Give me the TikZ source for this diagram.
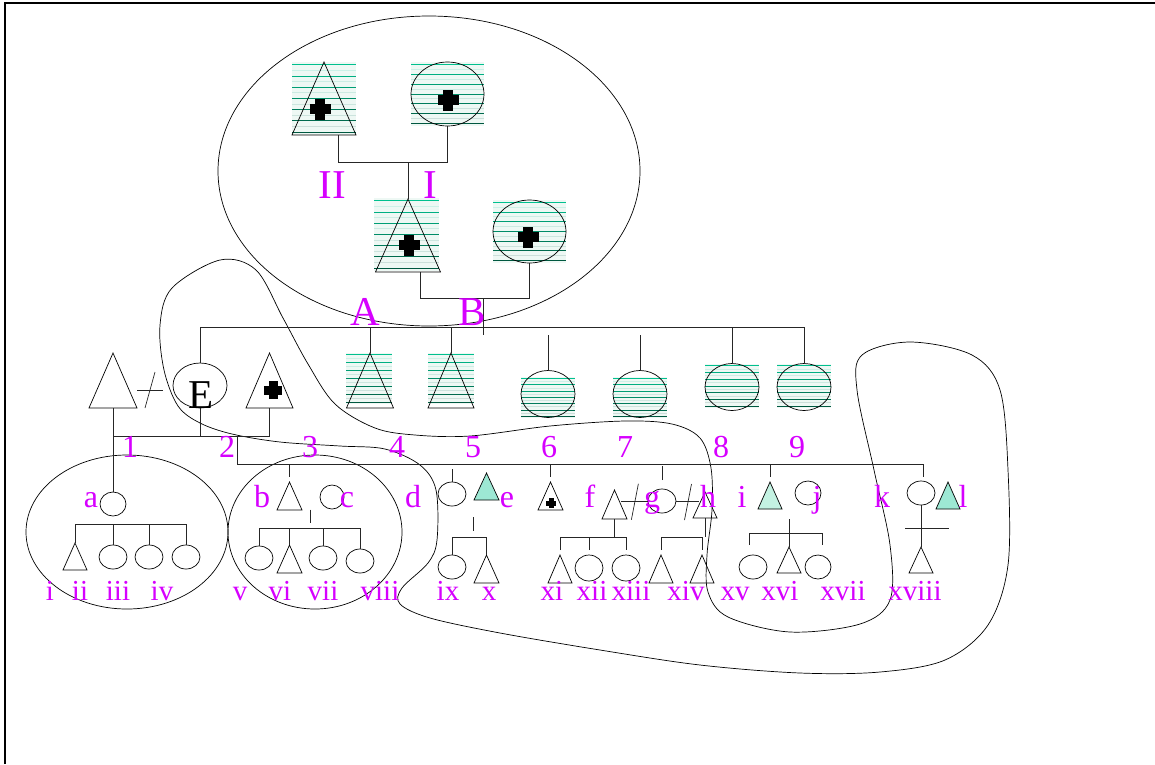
\documentclass[tikz,border=0pt]{standalone}
\usepackage{fontspec}
\setmainfont{Liberation Serif}
\usetikzlibrary{shapes.geometric,calc}

\definecolor{labcol}{RGB}{214,0,255}
\definecolor{mint}{RGB}{157,232,212}
\definecolor{palemint}{RGB}{196,242,226}
\definecolor{hatchbright}{RGB}{0,192,142}
\definecolor{hatchdark}{RGB}{0,88,64}
\definecolor{hatchbg}{RGB}{238,248,244}

\tikzset{
  pline/.style={draw=black!85, line width=0.7pt},
  tri/.style 2 args={draw, line width=0.7pt, isosceles triangle, shape border rotate=90,
    isosceles triangle stretches, inner sep=0pt, outer sep=0pt,
    minimum width=#1, minimum height=#2, anchor=apex},
  circ/.style 2 args={draw, line width=0.7pt, ellipse, inner sep=0pt, outer sep=0pt,
    minimum width=#1, minimum height=#2},
  lab/.style={text=labcol, anchor=base, inner sep=0pt, font=\fontsize{32}{36}\selectfont},
  romlab/.style={lab, font=\fontsize{29}{32}\selectfont},
  biglab/.style={lab, font=\fontsize{41}{44}\selectfont}
}

% striped shading behind affected people
\newcommand\hatchbox[4]{%
  \fill[hatchbg] (#1,#2) rectangle (#3,#4);
  \foreach \k in {0,...,12}{%
    \pgfmathsetmacro\hy{#2+(\k+0.5)*(#4-#2)/13}%
    \pgfmathtruncatemacro\hmix{100*\k/12}%
    \pgfmathtruncatemacro\hodd{mod(\k,2)}%
    \ifnum\hodd=0 \def\hcol{hatchdark!\hmix!hatchbright}\else\def\hcol{hatchdark!\hmix!hatchbright!20!white}\fi
    \draw[color=\hcol, line width=1pt] (#1,\hy) -- (#3,\hy);
  }}
\newcommand\plusmark[3]{%
  \fill (#1-#3/2,#2-#3/4) rectangle (#1+#3/2,#2+#3/4);
  \fill (#1-#3/4,#2-#3/2) rectangle (#1+#3/4,#2+#3/2);}

\begin{document}
\begin{tikzpicture}[x=1pt,y=-1pt]
\useasboundingbox (0,0) rectangle (1155,764);
\draw[line width=2pt] (5,764) -- (5,3) -- (1155,3);

% groupings
\draw[line width=0.7pt] (429,171) ellipse [x radius=211, y radius=155];
\draw[line width=0.7pt] (127,532) ellipse [x radius=101, y radius=77];
\draw[line width=0.7pt] (315,532) ellipse [x radius=87, y radius=77];
\draw[line width=0.7pt] plot[smooth cycle, tension=0.55] coordinates {
  (220,260) (256,270) (283,318) (308,364) (335,404) (375,428) (415,435) (470,436)
  (550,426) (625,421) (672,424) (700,438) (711,468) (712,510) (707,555) (708,592)
  (728,617) (790,632) (860,624) (890,600) (890,545) (874,470) (857,390) (862,355)
  (910,342) (972,355) (1000,390) (1008,470) (1008,565) (988,625) (945,660) (880,672)
  (800,673) (700,665) (600,650) (500,633) (430,618) (400,604) (402,588) (428,563)
  (437,540) (436,490) (420,465) (385,449) (340,446) (280,442) (232,434) (200,423)
  (178,406) (164,370) (160,325) (172,288)};

% generation I and II
\hatchbox{292}{62}{356}{135}
\hatchbox{411}{62}{484}{126}
\hatchbox{374}{198}{439}{271}
\hatchbox{493}{200}{566}{263}
\node[tri={64}{73}] (II) at (324,62) {};
\node[circ={73}{64}] (I) at (447.5,94) {};
\node[tri={65}{73}] (A) at (408,199) {};
\node[circ={73}{63}] (B) at (529.5,231.5) {};
\plusmark{320}{109}{21}
\plusmark{448}{100}{21}
\plusmark{409}{245}{21}
\plusmark{528}{237}{21}
\coordinate (m0) at (408,162);
\coordinate (m1) at (483,298);
\draw[pline] ([xshift=14pt]II.lower side) |- (I.south |- m0) -- (I.south);
\draw[pline] (m0) -- (A.apex);
\draw[pline] ([xshift=12pt]A.lower side) |- (B.south |- m1) -- (B.south);
\draw[pline] (m1) -- ++(0,37);

% generation III
\hatchbox{346}{353}{392}{404}
\hatchbox{428}{353}{474}{404}
\hatchbox{521}{377}{575}{418}
\hatchbox{613}{377}{667}{418}
\hatchbox{705}{364}{759}{408}
\hatchbox{777}{364}{831}{408}
\node[tri={48}{55}] (T1) at (113,353) {};
\node[circ={54}{45}] (E) at (200,385.5) {};
\node[tri={47}{55}] (T2) at (269.5,353) {};
\node[tri={47}{55}] (T4) at (370,353) {};
\node[tri={46}{55}] (T5) at (451,353) {};
\node[circ={54}{47}] (C6) at (548,394) {};
\node[circ={54}{47}] (C7) at (640,394) {};
\node[circ={54}{47}] (C8) at (732,387) {};
\node[circ={54}{47}] (C9) at (804,387) {};
\plusmark{273}{390}{18}
\coordinate (s3) at (0,327);
\draw[pline] (E.north) -- (E.north |- s3) -- (C9.north |- s3) -- (C9.north);
\draw[pline] (T4.apex) -- (T4.apex |- s3);
\draw[pline] (T5.apex) -- (T5.apex |- s3);
\draw[pline] (C8.north) -- (C8.north |- s3);
\draw[pline] (C6.north) -- ++(0,-36);
\draw[pline] (C7.north) -- ++(0,-36);
\coordinate (T1E) at (150,390);
\draw[pline] ([xshift=-13pt]T1E) -- ([xshift=13pt]T1E);
\draw[pline] ([shift={(-5,18)}]T1E) -- ([shift={(5,-18)}]T1E);
\coordinate (m2) at (200,436);
\coordinate (m3) at (237,436);
\draw[pline] (T1.lower side |- m2) -| (T2.lower side);
\draw[pline] (E.south) -- (m2);

% generation IV
\node[circ={26}{24}] (pa) at (113,504) {};
\node[tri={25}{28}] (pb) at (289.5,482) {};
\node[circ={24}{24}] (pc) at (332,497) {};
\node[circ={28}{24}] (pd) at (452,494) {};
\node[tri={25}{27}, fill=mint] (pe) at (486.5,473) {};
\node[tri={25}{28}] (p6) at (550.5,482) {};
\node[tri={25}{29}] (pf) at (614.5,490) {};
\node[circ={28}{24}] (pg) at (662,501) {};
\node[tri={24}{26}] (ph) at (705,492) {};
\node[tri={24}{27}, fill=palemint] (pi) at (770,482) {};
\node[circ={26}{24}] (pj) at (808,493) {};
\node[circ={28}{24}] (pk) at (921,493) {};
\node[tri={24}{27}, fill=mint] (pl) at (948,482) {};
\plusmark{551}{503}{10}
\coordinate (s4e) at (923,464);
\draw[pline] (T1.lower side) -- (pa.north);
\draw[pline] (m3) |- (s4e) -- ++(0,13);
\draw[pline] (pb.apex |- s4e) -- ++(0,13);
\draw[pline] (p6.apex |- s4e) -- ++(0,13);
\draw[pline] (pi.apex |- s4e) -- ++(0,13);
\draw[pline] (pd.north) -- ++(0,-13);
\draw[pline] ([yshift=9pt]pg.north) -- ++(0,-14);
\draw[pline] (pg.west) -- (pg.west -| pf.right side);
\draw[pline] (pg.east) -- (pg.east -| ph.left side);
\draw[pline] ($(pf.right side)!0.5!(pg.west)$) ++(-3,17) -- ++(7,-36);
\draw[pline] ($(pg.east)!0.5!(ph.left side)$) ++(-3,17) -- ++(7,-36);

% generation V
\node[tri={24}{27}] (ci) at (75,543) {};
\node[circ={28}{24}] (cii) at (113,557) {};
\node[circ={28}{24}] (ciii) at (149,557) {};
\node[circ={28}{24}] (civ) at (186,557) {};
\draw[pline] (ci.apex) -- ++(0,-19) -| (civ.north);
\draw[pline] (cii.north) -- ++(0,-21);
\draw[pline] (ciii.north) -- ++(0,-21);

\node[circ={28}{24}] (cv) at (259,558) {};
\node[tri={25}{28}] (cvi) at (289.5,545) {};
\node[circ={28}{24}] (cvii) at (323,558) {};
\node[circ={28}{24}] (cviii) at (360,561) {};
\draw[pline] ($(pb.lower side)!0.5!(pc.south)$) -- ++(0,13);
\draw[pline] (cv.north) -- ++(0,-18) -| (cviii.north);
\draw[pline] (cvi.apex) -- ++(0,-17);
\draw[pline] (cvii.north) -- ++(0,-18);

\node[circ={28}{24}] (cix) at (452,567) {};
\node[tri={25}{28}] (cx) at (486.5,555) {};
\draw[pline] ($(pd.south)!0.5!(pe.lower side)$) ++(4,14) -- ++(0,14);
\draw[pline] (cix.north) -- ++(0,-18) -| (cx.apex);

\node[tri={24}{28}] (cxi) at (560,555) {};
\node[circ={28}{26}] (cxii) at (589,568) {};
\node[circ={28}{26}] (cxiii) at (626,568) {};
\draw[pline] (pf.lower side) -- ++(0,18);
\draw[pline] ([yshift=5pt]cxi.apex) -- ++(0,-13) -| ([yshift=5pt]cxiii.north);
\draw[pline] ([yshift=5pt]cxii.north) -- ++(0,-13);

\node[tri={24}{28}] (ch1) at (661,555) {};
\node[tri={24}{28}] (ch2) at (702,555) {};
\draw[pline] (ph.lower side) -- ++(0,19);
\draw[pline] ([yshift=5pt]ch1.apex) -- ++(0,-13) -| ([yshift=5pt]ch2.apex);

\node[circ={28}{24}] (cxv) at (753,567) {};
\node[tri={24}{26}] (cxvi) at (789,547) {};
\node[circ={26}{24}] (cxvii) at (818,567) {};
\draw[pline] ($(pi.lower side)!0.5!(pj.south)$) ++(0,12) -- (cxvi.apex);
\draw[pline] ([shift={(-4,-10)}]cxv.north) -- ++(0,-12) -| ([shift={(4,-10)}]cxvii.north);

\node[tri={24}{26}] (cxviii) at (921,547) {};
\draw[pline] (pk.south) -- (cxviii.apex);
\coordinate (kx) at ($(pk.south)!0.55!(cxviii.apex)$);
\draw[pline] ([xshift=-16pt]kx) -- ([xshift=28pt]kx);

% labels
\node[biglab] (lII) at (332,198) {II};
\node[biglab] (lI) at (430,198) {I};
\node[biglab] (lA) at (365,325) {A};
\node[biglab] (lB) at (472,325) {B};
\node[biglab, text=black] (lE) at (201,408) {E};
\foreach \t/\x in {1/130,2/227,3/310,4/397,5/473,6/549,7/625,8/721,9/797}
  \node[lab] (n\t) at (\x,457) {\t};
\foreach \t/\x in {a/91,b/262,c/347,d/413,e/507,f/590,g/652,h/708,i/742,j/817,k/882,l/963}
  \node[lab] (l\t) at (\x,507) {\t};
\foreach \t/\x in {i/50,ii/80,iii/118,iv/162,v/240,vi/280,vii/323,viii/380,ix/448,
  x/489,xi/552,xii/592,xiii/631,xiv/686,xv/735,xvi/780,xvii/843,xviii/915}
  \node[romlab] (r\t) at (\x,600) {\t};
\end{tikzpicture}
\end{document}
